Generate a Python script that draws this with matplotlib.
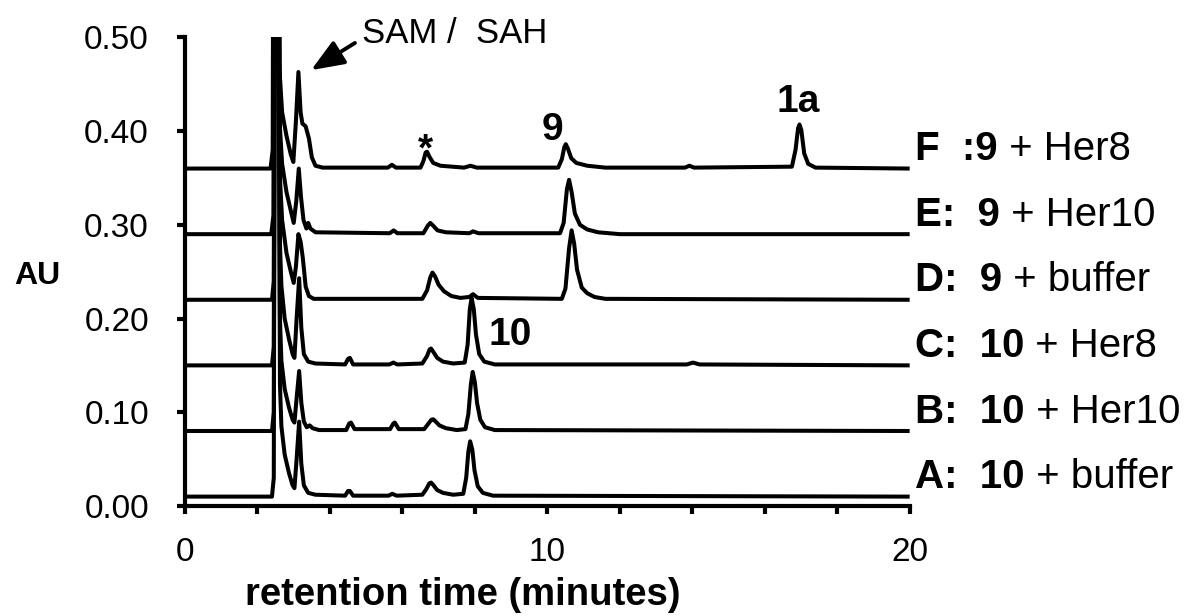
import matplotlib
matplotlib.use('Agg')  # sin pantalla
import matplotlib.pyplot as plt
from matplotlib.ticker import MultipleLocator, FixedLocator, FormatStrFormatter

plt.rcParams['font.family'] = ['Liberation Sans', 'DejaVu Sans']

# Cromatogramas: (tiempo en min, absorbancia sobre la linea base)
trace_a = [(0, 0), (2.40, 0), (2.45, 0.02), (2.48, 0.55), (2.58, 0.55), (2.62, 0.12),
           (2.66, 0.075), (2.75, 0.045), (2.87, 0.025), (2.97, 0.012), (3.02, 0.009),
           (3.08, 0.04), (3.15, 0.08), (3.21, 0.035), (3.28, 0.012), (3.40, 0.004),
           (3.60, 0.002), (4.42, 0.001), (4.50, 0.006), (4.55, 0.006), (4.64, 0.001),
           (5.62, 0.001), (5.72, 0.003), (5.84, 0.001), (6.55, 0.002), (6.66, 0.008),
           (6.74, 0.014), (6.79, 0.015), (6.86, 0.012), (6.96, 0.007), (7.12, 0.004),
           (7.40, 0.002), (7.68, 0.003), (7.76, 0.02), (7.82, 0.048), (7.87, 0.059),
           (7.93, 0.05), (7.99, 0.028), (8.08, 0.011), (8.22, 0.004), (8.50, 0.001),
           (20, 0)]
trace_b = [(0, 0), (2.40, 0), (2.45, 0.02), (2.48, 0.55), (2.58, 0.55), (2.62, 0.12),
           (2.66, 0.075), (2.75, 0.045), (2.87, 0.025), (2.97, 0.012), (3.02, 0.009),
           (3.08, 0.035), (3.15, 0.064), (3.21, 0.03), (3.28, 0.01), (3.36, 0.004),
           (3.44, 0.006), (3.52, 0.003), (3.70, 0.001), (4.45, 0.001), (4.53, 0.008),
           (4.58, 0.009), (4.68, 0.002), (5.66, 0.002), (5.75, 0.008), (5.79, 0.009),
           (5.90, 0.002), (6.60, 0.002), (6.72, 0.008), (6.80, 0.012), (6.85, 0.0125),
           (6.92, 0.010), (7.02, 0.006), (7.20, 0.003), (7.50, 0.001), (7.74, 0.002),
           (7.82, 0.018), (7.89, 0.05), (7.94, 0.063), (8.00, 0.052), (8.06, 0.03),
           (8.15, 0.012), (8.28, 0.004), (8.55, 0.001), (20, 0)]
trace_c = [(0, 0), (2.40, 0), (2.45, 0.02), (2.48, 0.55), (2.58, 0.55), (2.62, 0.13),
           (2.66, 0.085), (2.75, 0.05), (2.87, 0.028), (2.97, 0.012), (3.02, 0.008),
           (3.08, 0.05), (3.15, 0.093), (3.21, 0.04), (3.28, 0.012), (3.40, 0.004),
           (3.60, 0.002), (4.42, 0.001), (4.50, 0.007), (4.55, 0.008), (4.64, 0.001),
           (5.64, 0.001), (5.75, 0.003), (5.86, 0.001), (6.55, 0.002), (6.68, 0.01),
           (6.75, 0.017), (6.79, 0.018), (6.86, 0.014), (6.96, 0.008), (7.12, 0.004),
           (7.40, 0.002), (7.72, 0.003), (7.80, 0.022), (7.86, 0.060), (7.91, 0.072),
           (7.97, 0.06), (8.03, 0.033), (8.12, 0.012), (8.26, 0.004), (8.55, 0.001),
           (13.85, 0.001), (14.02, 0.003), (14.20, 0.001), (20, 0)]
trace_d = [(0, 0), (2.40, 0), (2.45, 0.02), (2.48, 0.55), (2.58, 0.55), (2.62, 0.13),
           (2.68, 0.085), (2.80, 0.05), (2.92, 0.03), (3.00, 0.018), (3.06, 0.035),
           (3.13, 0.07), (3.19, 0.062), (3.25, 0.045), (3.33, 0.014), (3.42, 0.004),
           (3.55, 0.001), (6.55, 0.001), (6.68, 0.01), (6.77, 0.024), (6.83, 0.029),
           (6.90, 0.025), (7.00, 0.016), (7.15, 0.009), (7.35, 0.004), (7.60, 0.002),
           (7.85, 0.003), (7.95, 0.006), (8.08, 0.002), (10.40, 0.001), (10.50, 0.012),
           (10.60, 0.055), (10.67, 0.074), (10.74, 0.06), (10.82, 0.032), (10.95, 0.013),
           (11.10, 0.007), (11.30, 0.003), (11.60, 0.001), (20, 0)]
trace_e = [(0, 0), (2.38, 0), (2.44, 0.02), (2.47, 0.55), (2.57, 0.55), (2.61, 0.12),
           (2.68, 0.075), (2.80, 0.045), (2.92, 0.025), (3.00, 0.012), (3.07, 0.035),
           (3.14, 0.07), (3.20, 0.04), (3.27, 0.015), (3.35, 0.006), (3.40, 0.012),
           (3.46, 0.006), (3.60, 0.002), (5.65, 0.001), (5.76, 0.004), (5.86, 0.001),
           (6.58, 0.001), (6.70, 0.009), (6.77, 0.012), (6.85, 0.009), (6.97, 0.004),
           (7.20, 0.002), (7.85, 0.001), (7.95, 0.003), (8.10, 0.001), (10.35, 0.001),
           (10.45, 0.012), (10.54, 0.048), (10.60, 0.058), (10.67, 0.045), (10.76, 0.022),
           (10.90, 0.010), (11.10, 0.005), (11.40, 0.002), (12.00, 0), (20, 0)]
trace_f = [(0, 0), (2.36, 0), (2.42, 0.02), (2.45, 0.55), (2.56, 0.55), (2.60, 0.11),
           (2.68, 0.06), (2.80, 0.035), (2.92, 0.015), (2.99, 0.007), (3.06, 0.05),
           (3.13, 0.103), (3.19, 0.06), (3.24, 0.048), (3.33, 0.045), (3.42, 0.032),
           (3.50, 0.012), (3.60, 0.003), (3.80, 0.001), (5.60, 0.001), (5.71, 0.004),
           (5.82, 0.001), (6.50, 0.001), (6.58, 0.008), (6.64, 0.017), (6.68, 0.018),
           (6.74, 0.013), (6.85, 0.006), (7.05, 0.003), (7.70, 0.001), (7.88, 0.003),
           (8.05, 0.001), (10.30, 0.001), (10.40, 0.01), (10.47, 0.023), (10.51, 0.026),
           (10.57, 0.021), (10.66, 0.011), (10.80, 0.006), (11.10, 0.003), (11.60, 0.001),
           (13.80, 0.001), (13.92, 0.003), (14.05, 0.001), (16.75, 0.002), (16.85, 0.02),
           (16.92, 0.043), (16.96, 0.047), (17.01, 0.041), (17.09, 0.016), (17.20, 0.005),
           (17.40, 0.001), (20, 0)]

traces = [trace_a, trace_b, trace_c, trace_d, trace_e, trace_f]
offsets = [0.01, 0.08, 0.15, 0.22, 0.29, 0.36]
label_bold = ['A:  10', 'B:  10', 'C:  10', 'D:  9', 'E:  9', 'F  :9']
label_plain = [' + buffer', ' + Her10', ' + Her8', ' + buffer', ' + Her10', ' + Her8']

# etiquetas de picos: texto, tiempo, altura
peak_labels = ['*', '9', '1a', '10']
peak_x = [6.65, 10.15, 16.91, 8.97]
peak_y = [0.369, 0.390, 0.420, 0.172]

fig = plt.figure(figsize=(11.86, 6.16), dpi=100)
ax = fig.add_axes([0.156, 0.1786, 0.611, 0.7608])

for pares, base in zip(traces, offsets):
    t, a = zip(*pares)
    ax.plot(t, [base + v for v in a], color='black', lw=2.9,
            solid_joinstyle='round', solid_capstyle='butt')

ax.set_xlim(0, 20)
ax.set_ylim(0, 0.5)
for lado in ['top', 'right']:
    ax.spines[lado].set_visible(False)
for lado in ['left', 'bottom']:
    ax.spines[lado].set_linewidth(3.0)

ax.xaxis.set_major_locator(FixedLocator([0, 10, 20]))
ax.xaxis.set_minor_locator(MultipleLocator(2))
ax.yaxis.set_major_locator(MultipleLocator(0.1))
ax.yaxis.set_major_formatter(FormatStrFormatter('%.2f'))
ax.tick_params(which='both', direction='out', length=6, width=3.0, labelsize=24)
ax.tick_params(axis='y', pad=20)
ax.tick_params(axis='x', pad=16)

# etiquetas a la derecha de cada traza (parte en negrita + parte normal)
for base, negrita, normal in zip(offsets, label_bold, label_plain):
    t1 = ax.text(20.15, base + 0.009, negrita, fontsize=29, fontweight='bold',
                 va='baseline', ha='left', clip_on=False)
    ax.annotate(normal, xy=(1, 0), xycoords=t1, va='bottom', ha='left', fontsize=29)

for txt, x, y in zip(peak_labels, peak_x, peak_y):
    ax.text(x, y, txt, fontsize=28, fontweight='bold', ha='center', va='baseline')

ax.text(4.88, 0.494, 'SAM /  SAH', fontsize=25, va='baseline', ha='left', clip_on=False)
ax.annotate('', xy=(3.48, 0.465), xytext=(4.69, 0.494),
            arrowprops=dict(arrowstyle='-|>,head_length=1.0,head_width=0.4', lw=2.8,
                            color='black', mutation_scale=20, shrinkA=0, shrinkB=0),
            annotation_clip=False)

fig.text(37 / 1186, 1 - 276 / 616, 'AU', fontsize=23, fontweight='bold',
         ha='center', va='center')
fig.text(463 / 1186, 1 - 595 / 616, 'retention time (minutes)', fontsize=27.5,
         fontweight='bold', ha='center', va='center')

fig.savefig('out.png', dpi=100)
plt.close(fig)
